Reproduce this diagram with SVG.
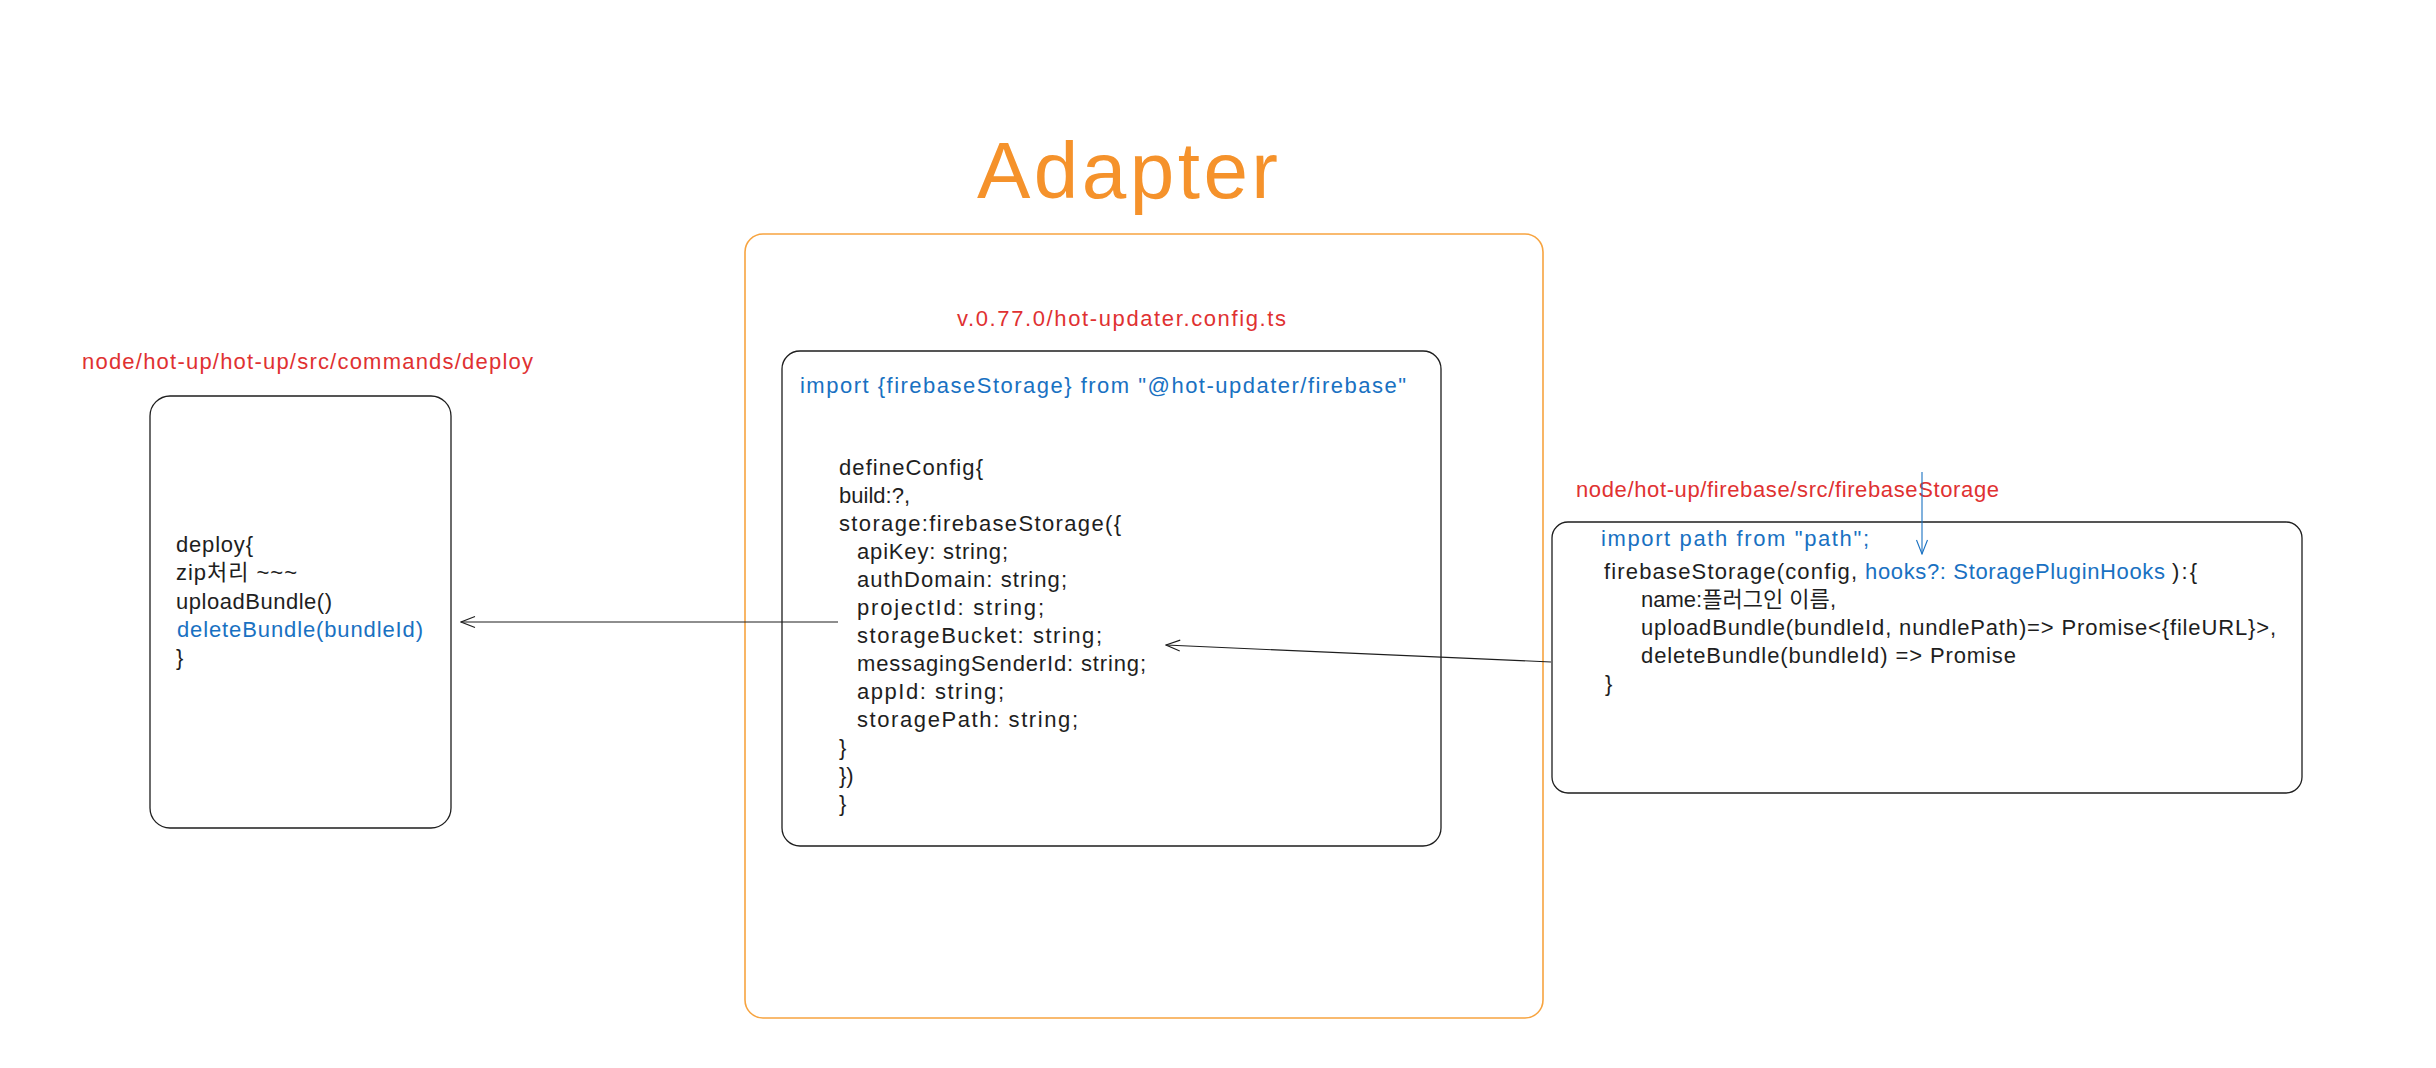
<svg xmlns="http://www.w3.org/2000/svg" width="2436" height="1068" viewBox="0 0 2436 1068">
<style>
  text { font-family: "Liberation Sans", "Noto Sans CJK KR", sans-serif; font-size: 22px; fill: #1e1e1e; }
  .red { fill: #e03131; }
  .blue { fill: #1971c2; }
  .title { fill: #f5922b; font-size: 80px; }
  .box { fill: none; stroke: #1e1e1e; stroke-width: 1.3; }
  .outer { fill: none; stroke: #f7a440; stroke-width: 1.6; }
  .conn { fill: none; stroke: #1e1e1e; stroke-width: 1.1; }
  .conn-blue { fill: none; stroke: #1971c2; stroke-width: 1.1; }
</style>
<defs>
  <marker id="ah" viewBox="0 0 16 14" refX="15" refY="7" markerWidth="16" markerHeight="14" orient="auto" markerUnits="userSpaceOnUse">
    <path d="M1,1.5 L15,7 L1,12.5" fill="none" stroke="#1e1e1e" stroke-width="1.1"/>
  </marker>
  <marker id="ahb" viewBox="0 0 16 14" refX="15" refY="7" markerWidth="16" markerHeight="14" orient="auto" markerUnits="userSpaceOnUse">
    <path d="M1,1.5 L15,7 L1,12.5" fill="none" stroke="#1971c2" stroke-width="1.1"/>
  </marker>
</defs>
<rect width="2436" height="1068" fill="#ffffff"/>

<g id="adapter-title">
  <text class="title" x="977" y="198" textLength="301">Adapter</text>
</g>

<g id="adapter-group">
  <rect class="outer" x="745" y="234" width="798" height="784" rx="18"/>
</g>

<g id="deploy-node">
  <text class="red" x="82" y="369" textLength="451">node/hot-up/hot-up/src/commands/deploy</text>
  <rect class="box" x="150" y="396" width="301" height="432" rx="20"/>
  <text x="176" y="552" textLength="77">deploy{</text>
  <text x="176" y="580" textLength="121">zip처리 ~~~</text>
  <text x="176" y="609" textLength="156">uploadBundle()</text>
  <text class="blue" x="177" y="637" textLength="246">deleteBundle(bundleId)</text>
  <text x="176" y="665">}</text>
</g>

<g id="config-node">
  <text class="red" x="957" y="326" textLength="329">v.0.77.0/hot-updater.config.ts</text>
  <rect class="box" x="782" y="351" width="659" height="495" rx="18"/>
  <text class="blue" x="800" y="393" textLength="606">import {firebaseStorage} from "@hot-updater/firebase"</text>
  <text x="839" y="475" textLength="144">defineConfig{</text>
  <text x="839" y="503" textLength="71">build:?,</text>
  <text x="839" y="531" textLength="282">storage:firebaseStorage({</text>
  <text x="857" y="559" textLength="151">apiKey: string;</text>
  <text x="857" y="587" textLength="210">authDomain: string;</text>
  <text x="857" y="615" textLength="187">projectId: string;</text>
  <text x="857" y="643" textLength="245">storageBucket: string;</text>
  <text x="857" y="671" textLength="289">messagingSenderId: string;</text>
  <text x="857" y="699" textLength="147">appId: string;</text>
  <text x="857" y="727" textLength="221">storagePath: string;</text>
  <text x="839" y="755">}</text>
  <text x="839" y="783">})</text>
  <text x="839" y="811">}</text>
</g>

<g id="firebase-storage-node">
  <text class="red" x="1576" y="497" textLength="423">node/hot-up/firebase/src/firebaseStorage</text>
  <rect class="box" x="1552" y="522" width="750" height="271" rx="16"/>
  <text class="blue" x="1601" y="546" textLength="268">import path from "path";</text>
  <text x="1604" y="579" textLength="253">firebaseStorage(config,</text>
  <text class="blue" x="1865" y="579" textLength="300">hooks?: StoragePluginHooks</text>
  <text x="2172" y="579" textLength="25">):{</text>
  <text x="1641" y="607" textLength="195">name:플러그인 이름,</text>
  <text x="1641" y="635" textLength="635">uploadBundle(bundleId, nundlePath)=&gt; Promise&lt;{fileURL}&gt;,</text>
  <text x="1641" y="663" textLength="375">deleteBundle(bundleId) =&gt; Promise</text>
  <text x="1605" y="691">}</text>
</g>

<g id="connectors">
  <line class="conn" x1="838" y1="622" x2="461" y2="622" marker-end="url(#ah)"/>
  <line class="conn" x1="1551" y1="662" x2="1166" y2="645" marker-end="url(#ah)"/>
  <line class="conn-blue" x1="1922" y1="472" x2="1922" y2="554" marker-end="url(#ahb)"/>
</g>
</svg>
